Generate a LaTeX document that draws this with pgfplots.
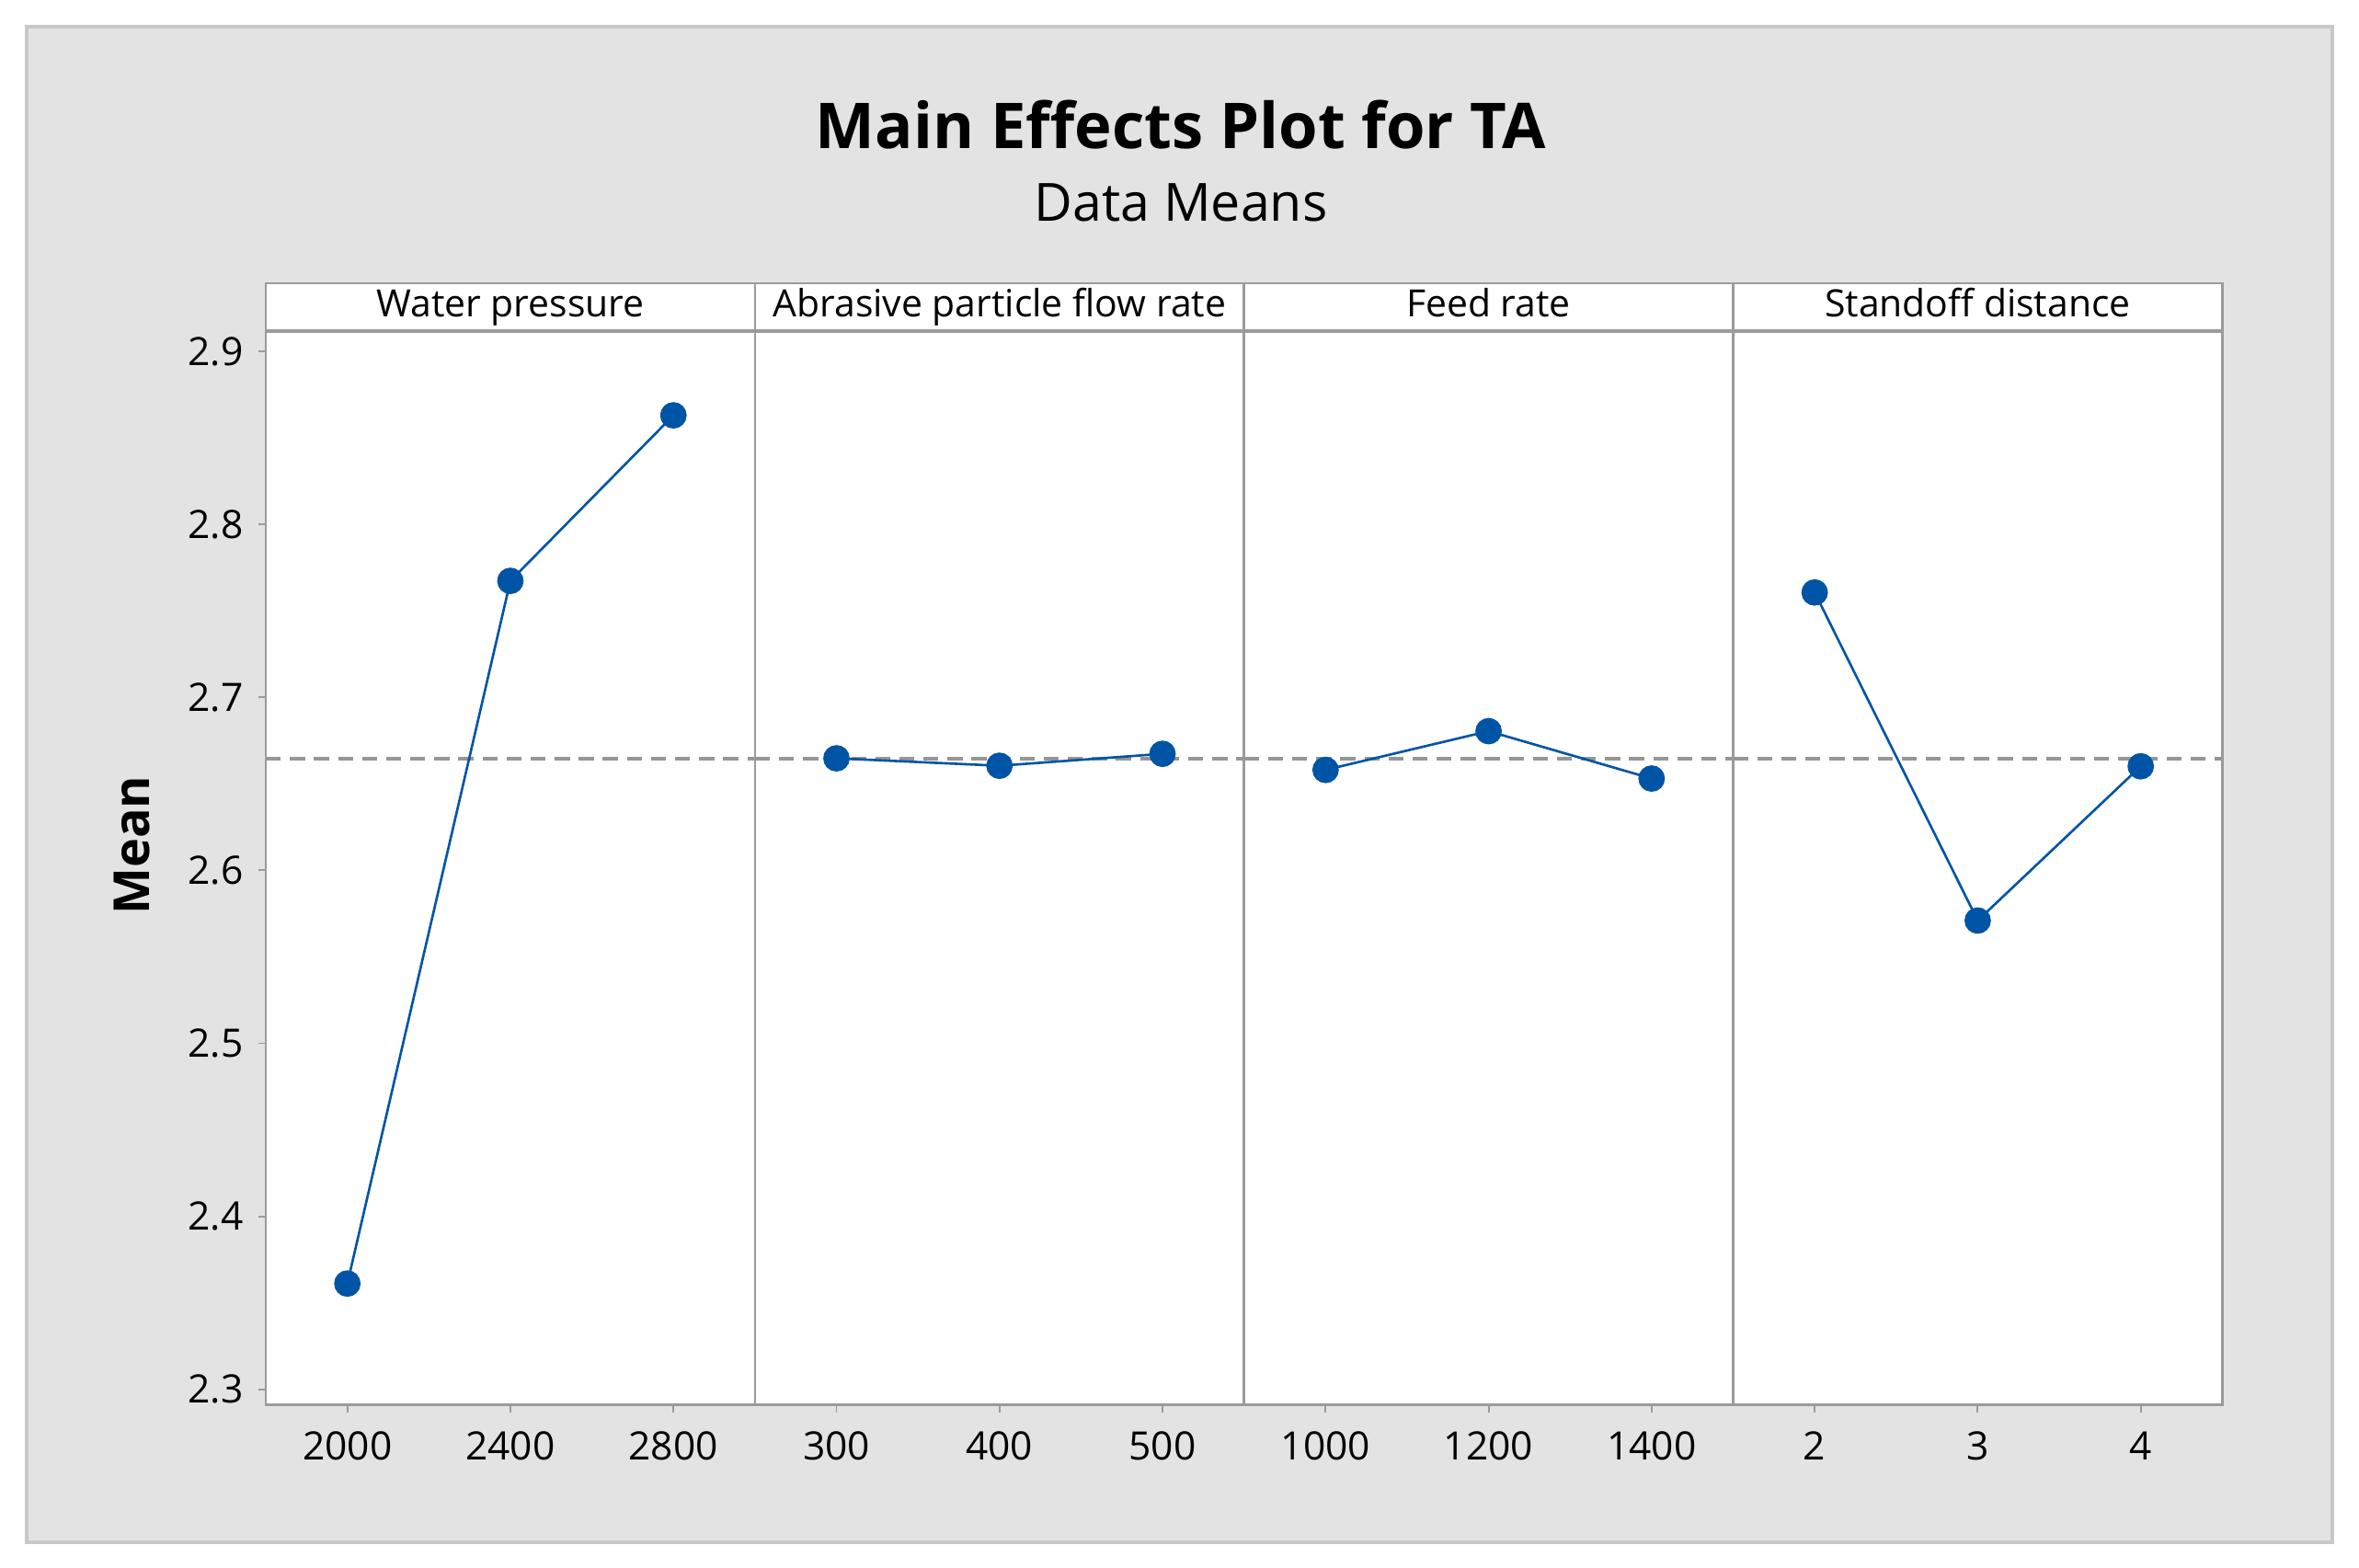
\documentclass[border=0pt]{standalone}
\usepackage{fontspec}
\setmainfont{Open Sans}
\usepackage{pgfplots}
\pgfplotsset{compat=1.18}

\definecolor{bgg}{RGB}{227,227,227}
\definecolor{bdg}{RGB}{200,200,200}
\definecolor{axg}{RGB}{155,155,155}
\definecolor{mblue}{RGB}{0,84,166}
\definecolor{refg}{RGB}{150,150,150}

\pgfplotsset{
 panel/.style={
  scale only axis, width=162.55pt, height=356.55pt,
  anchor=south west,
  xmin=-0.5, xmax=2.5, ymin=2.2910, ymax=2.9113,
  xtick={0,1,2}, xtick pos=lower, ytick pos=left, tick align=outside,
  major tick length=2.5pt,
  axis line style={axg, line width=0.8pt},
  every tick/.style={axg, line width=0.6pt},
  tick label style={font=\fontsize{13}{15}\selectfont, text=black},
  /pgf/number format/assume math mode=true,
  xticklabel style={yshift=-3pt},
  yticklabel style={xshift=-1.5pt},
  axis background/.style={fill=white},
  every axis title shift=0pt,
  title style={at={(0.5,1)}, anchor=south, draw=axg, line width=0.8pt, fill=white,
    minimum width=162.55pt, minimum height=15.8pt, inner xsep=0pt, inner ysep=1.4pt,
    text height=9.3pt, text depth=2.8pt,
    font=\fontsize{12.5}{14}\selectfont, yshift=0pt},
  clip=false,
 },
 dat/.style={mblue, line width=0.8pt, mark=*, mark size=4pt, mark options={fill=mblue, draw=mblue, solid}},
 ref/.style={refg, line width=1.2pt, dash pattern=on 5pt off 3pt},
}

\begin{document}
\begin{tikzpicture}
\path[use as bounding box, fill=white] (0,0) rectangle (784pt,521pt);
\filldraw[fill=bgg, draw=bdg, line width=1.2pt] (9pt,8.5pt) rectangle (775pt,512pt);
\node[font=\bfseries\fontsize{21}{24}\selectfont] at (392.5pt,479.5pt) {Main Effects Plot for TA};
\node[font=\fontsize{17.5}{20}\selectfont] at (392.5pt,453.5pt) {Data Means};
\node[font=\bfseries\fontsize{16.5}{18}\selectfont, rotate=90] at (44pt,240pt) {Mean};

\begin{axis}[panel, at={(88.35pt,54.1pt)}, title={Water pressure},
  xticklabels={2000,2400,2800},
  ytick={2.3,2.4,2.5,2.6,2.7,2.8,2.9},
  yticklabel style={/pgf/number format/.cd, fixed, fixed zerofill, precision=1}]
\addplot[ref] coordinates {(-0.5,2.6646) (2.5,2.6646)};
\addplot[dat] coordinates {(0,2.3611) (1,2.7674) (2,2.8631)};
\end{axis}

\begin{axis}[panel, at={(250.9pt,54.1pt)}, title={Abrasive particle flow rate},
  xticklabels={300,400,500}, ytick=\empty]
\addplot[ref] coordinates {(-0.5,2.6646) (2.5,2.6646)};
\addplot[dat] coordinates {(0,2.6648) (1,2.6605) (2,2.6674)};
\end{axis}

\begin{axis}[panel, at={(413.45pt,54.1pt)}, title={Feed rate},
  xticklabels={1000,1200,1400}, ytick=\empty]
\addplot[ref] coordinates {(-0.5,2.6646) (2.5,2.6646)};
\addplot[dat] coordinates {(0,2.6581) (1,2.6805) (2,2.6531)};
\end{axis}

\begin{axis}[panel, at={(576pt,54.1pt)}, title={Standoff distance},
  xticklabels={2,3,4}, ytick=\empty]
\addplot[ref] coordinates {(-0.5,2.6646) (2.5,2.6646)};
\addplot[dat] coordinates {(0,2.7607) (1,2.5710) (2,2.6602)};
\end{axis}
\end{tikzpicture}
\end{document}
